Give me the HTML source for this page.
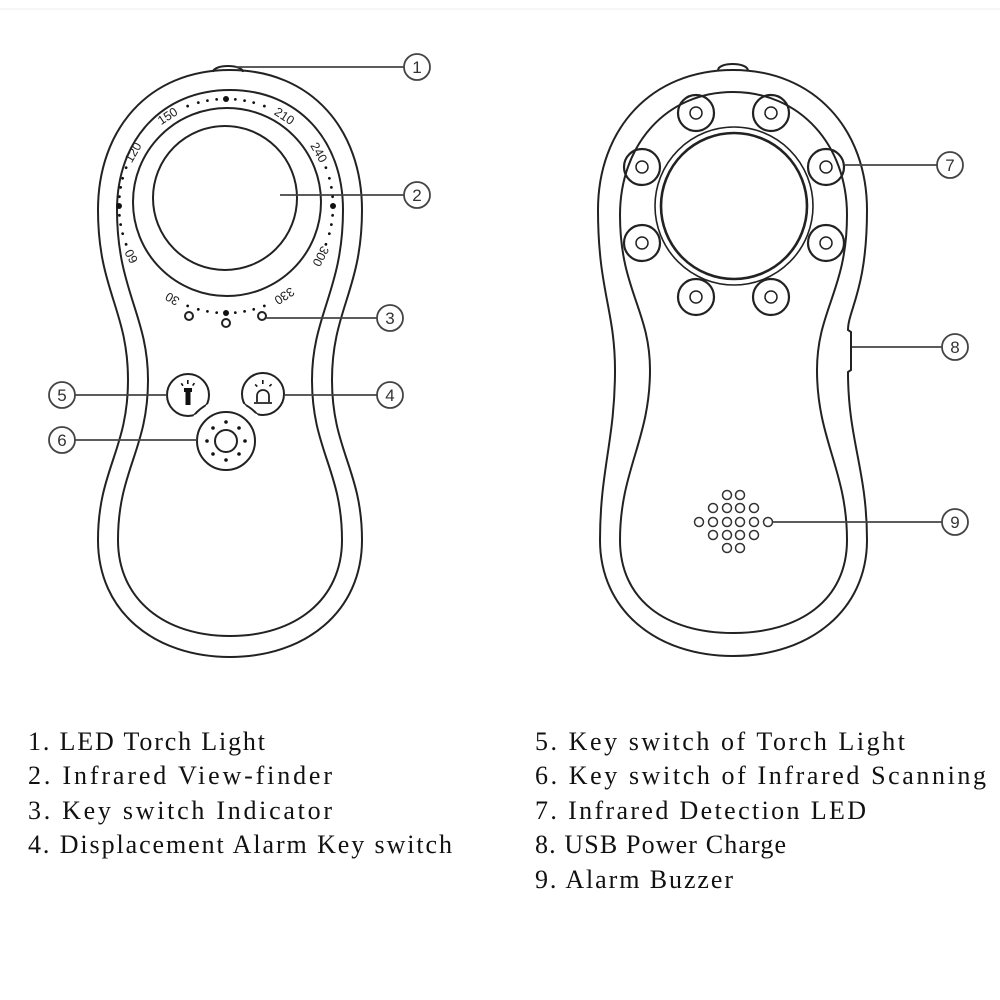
<!DOCTYPE html>
<html><head><meta charset="utf-8"><style>
html,body{margin:0;padding:0;background:#fff;}
svg{display:block;}
.t{font-family:"Liberation Serif",serif;font-size:26px;fill:#111;}
.n{font-family:"Liberation Sans",sans-serif;font-size:17px;fill:#333;text-anchor:middle;}
.d{font-family:"Liberation Sans",sans-serif;font-size:12.5px;fill:#222;text-anchor:middle;}
</style></head><body>
<svg width="1000" height="1000" viewBox="0 0 1000 1000" xmlns="http://www.w3.org/2000/svg">
<defs>
<mask id="cut"><rect width="1000" height="1000" fill="#fff"/><circle cx="226" cy="441" r="41" fill="#000"/></mask>
<clipPath id="bt"><circle cx="188" cy="395" r="21"/><circle cx="263" cy="394" r="21"/></clipPath>
</defs>
<line x1="0" y1="9" x2="1000" y2="9" stroke="#eee" stroke-width="1"/>
<g fill="none" stroke="#222" stroke-width="2">
<path d="M213,72 C214,64 242,64 243,72" />
<path d="M230,70 C312,70 362,130 362,210 C362,290 332,310 332,380 C332,450 362,470 362,540 C362,612 305,657 230,657 C155,657 98,612 98,540 C98,470 128,450 128,380 C128,310 98,290 98,210 C98,130 148,70 230,70Z"/>
<path d="M230,90 C298,90 343,140 343,210 C343,290 312,315 312,380 C312,450 342,470 342,540 C342,600 295,636 230,636 C165,636 118,600 118,540 C118,470 148,450 148,380 C148,315 117,290 117,210 C117,140 162,90 230,90Z"/>
<circle cx="227" cy="202" r="94"/>
<circle cx="225" cy="198" r="72"/>
<circle cx="189" cy="316" r="4"/><circle cx="226" cy="323" r="4"/><circle cx="262" cy="316" r="4"/>
<g mask="url(#cut)"><circle cx="188" cy="395" r="21"/><circle cx="263" cy="394" r="21"/></g>
<circle cx="226" cy="441" r="41" clip-path="url(#bt)"/>
<circle cx="226" cy="441" r="29"/>
<circle cx="226" cy="441" r="11"/>
<path d="M257,402 L257,396 C257,388 269,388 269,396 L269,402 M254,403 L272,403" stroke-width="1.8"/>
<path d="M718,70 C719,62 746,62 748,70" />
<path d="M733,70 C815,70 867,130 867,210 C867,290 848,310 848,330 L851,332 L851,370 L848,372 C848,440 867,470 867,540 C867,610 810,656 733,656 C656,656 600,610 600,540 C600,470 615,440 615,370 C615,310 598,290 598,210 C598,130 650,70 733,70Z"/>
<path d="M733,92 C800,92 847,145 847,215 C847,290 817,310 817,370 C817,440 847,470 847,540 C847,600 800,633 733,633 C666,633 620,600 620,540 C620,470 650,440 650,370 C650,310 620,290 620,215 C620,145 666,92 733,92Z"/>
<circle cx="734" cy="206" r="79" stroke-width="1.6"/>
<circle cx="734" cy="206" r="73" stroke-width="2.6"/>
<g stroke-width="2.2">
<circle cx="696" cy="113" r="18"/><circle cx="771" cy="113" r="18"/>
<circle cx="642" cy="167" r="18"/><circle cx="826" cy="167" r="18"/>
<circle cx="642" cy="243" r="18"/><circle cx="826" cy="243" r="18"/>
<circle cx="696" cy="297" r="18"/><circle cx="771" cy="297" r="18"/>
</g>
<g stroke-width="1.5">
<circle cx="696" cy="113" r="6"/><circle cx="771" cy="113" r="6"/>
<circle cx="642" cy="167" r="6"/><circle cx="826" cy="167" r="6"/>
<circle cx="642" cy="243" r="6"/><circle cx="826" cy="243" r="6"/>
<circle cx="696" cy="297" r="6"/><circle cx="771" cy="297" r="6"/>
</g>
<g stroke-width="1.5" stroke="#333">
<circle cx="727" cy="495" r="4.5"/><circle cx="740" cy="495" r="4.5"/>
<circle cx="713" cy="508" r="4.5"/><circle cx="727" cy="508" r="4.5"/><circle cx="740" cy="508" r="4.5"/><circle cx="754" cy="508" r="4.5"/>
<circle cx="699" cy="522" r="4.5"/><circle cx="713" cy="522" r="4.5"/><circle cx="727" cy="522" r="4.5"/><circle cx="740" cy="522" r="4.5"/><circle cx="754" cy="522" r="4.5"/><circle cx="768" cy="522" r="4.5"/>
<circle cx="713" cy="535" r="4.5"/><circle cx="727" cy="535" r="4.5"/><circle cx="740" cy="535" r="4.5"/><circle cx="754" cy="535" r="4.5"/>
<circle cx="727" cy="548" r="4.5"/><circle cx="740" cy="548" r="4.5"/>
</g>
<g stroke="#444" stroke-width="1.8">
<line x1="236" y1="67" x2="404" y2="67"/>
<line x1="280" y1="195" x2="404" y2="195"/>
<line x1="266" y1="318" x2="377" y2="318"/>
<line x1="285" y1="395" x2="377" y2="395"/>
<line x1="75" y1="395" x2="167" y2="395"/>
<line x1="75" y1="440" x2="197" y2="440"/>
<line x1="845" y1="165" x2="937" y2="165"/>
<line x1="852" y1="347" x2="942" y2="347"/>
<line x1="773" y1="522" x2="942" y2="522"/>
</g>
<g stroke="#444" stroke-width="1.8">
<circle cx="417" cy="67" r="13"/><circle cx="417" cy="195" r="13"/>
<circle cx="390" cy="318" r="13"/><circle cx="390" cy="395" r="13"/>
<circle cx="62" cy="395" r="13"/><circle cx="62" cy="440" r="13"/>
<circle cx="950" cy="165" r="13"/><circle cx="955" cy="347" r="13"/><circle cx="955" cy="522" r="13"/>
</g>
</g>
<g fill="#111">
<rect x="184" y="388" width="8" height="4"/><rect x="185.5" y="392" width="5" height="13"/>
<rect x="187" y="380" width="1.6" height="4"/><rect x="181" y="383" width="1.6" height="3" transform="rotate(-35 182 384)"/><rect x="193" y="383" width="1.6" height="3" transform="rotate(35 194 384)"/>
<rect x="262" y="380" width="1.6" height="4"/><rect x="255" y="384" width="1.6" height="3" transform="rotate(-45 256 385)"/><rect x="270" y="384" width="1.6" height="3" transform="rotate(45 271 385)"/>
</g>
<g fill="#111">
<circle cx="226" cy="422" r="1.8"/><circle cx="226" cy="460" r="1.8"/><circle cx="207" cy="441" r="1.8"/><circle cx="245" cy="441" r="1.8"/>
<circle cx="213" cy="428" r="1.8"/><circle cx="239" cy="428" r="1.8"/><circle cx="213" cy="454" r="1.8"/><circle cx="239" cy="454" r="1.8"/>
</g>
<g fill="#111">
<g id="dots">
<circle cx="226" cy="99" r="1.4" transform="rotate(-21 226 206)"/>
<circle cx="226" cy="99" r="1.4" transform="rotate(-15 226 206)"/>
<circle cx="226" cy="99" r="1.4" transform="rotate(-10 226 206)"/>
<circle cx="226" cy="99" r="1.4" transform="rotate(-5 226 206)"/>
<circle cx="226" cy="99" r="1.4" transform="rotate(5 226 206)"/>
<circle cx="226" cy="99" r="1.4" transform="rotate(10 226 206)"/>
<circle cx="226" cy="99" r="1.4" transform="rotate(15 226 206)"/>
<circle cx="226" cy="99" r="1.4" transform="rotate(21 226 206)"/>
<circle cx="226" cy="99" r="3" />
</g>
<use href="#dots" transform="rotate(90 226 206)"/>
<use href="#dots" transform="rotate(-90 226 206)"/>
<use href="#dots" transform="rotate(180 226 206)"/>
</g>
<g class="d">
<text x="226" y="103" transform="rotate(-33 226 206)">150</text>
<text x="226" y="103" transform="rotate(33 226 206)">210</text>
<text x="226" y="103" transform="rotate(60 226 206)">240</text>
<text x="226" y="103" transform="rotate(-60 226 206)">120</text>
<text x="226" y="103" transform="rotate(118 226 206)">300</text>
<text x="226" y="103" transform="rotate(-118 226 206)">60</text>
<text x="226" y="103" transform="rotate(147 226 206)">330</text>
<text x="226" y="103" transform="rotate(-150 226 206)">30</text>
</g>
<g class="n">
<text x="417" y="73">1</text><text x="417" y="201">2</text><text x="390" y="324">3</text><text x="390" y="401">4</text>
<text x="62" y="401">5</text><text x="62" y="446">6</text><text x="950" y="171">7</text><text x="955" y="353">8</text><text x="955" y="528">9</text>
</g>
<g class="t" xml:space="preserve">
<text x="28" y="750" textLength="237" lengthAdjust="spacing">1. LED Torch Light</text>
<text x="28" y="784" textLength="304" lengthAdjust="spacing">2. Infrared View-finder</text>
<text x="28" y="819" textLength="304" lengthAdjust="spacing">3. Key switch Indicator</text>
<text x="28" y="853" textLength="424" lengthAdjust="spacing">4. Displacement Alarm Key switch</text>
<text x="535" y="750" textLength="370" lengthAdjust="spacing">5. Key switch of Torch Light</text>
<text x="535" y="784" textLength="451" lengthAdjust="spacing">6. Key switch of Infrared Scanning</text>
<text x="535" y="819" textLength="331" lengthAdjust="spacing">7. Infrared Detection LED</text>
<text x="535" y="853" textLength="251" lengthAdjust="spacing">8. USB Power Charge</text>
<text x="535" y="888" textLength="198" lengthAdjust="spacing">9. Alarm Buzzer</text>
</g>
</svg>
</body></html>
